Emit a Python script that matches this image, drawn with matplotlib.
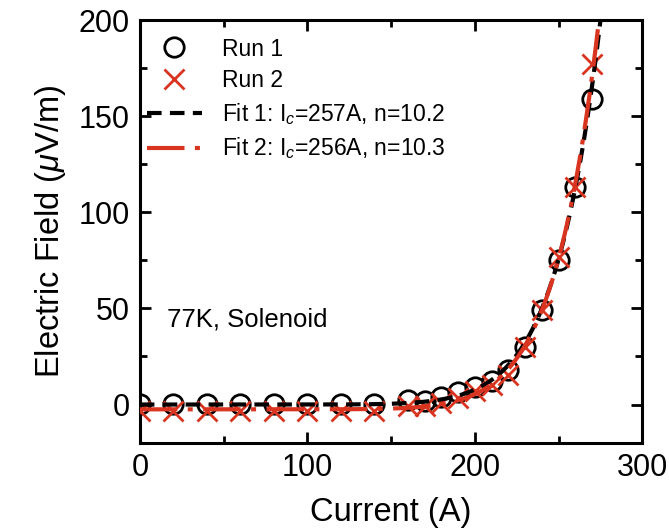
import numpy as np
import matplotlib.pyplot as plt

plt.rcParams['font.family'] = ['Liberation Sans', 'DejaVu Sans']
plt.rcParams['mathtext.fontset'] = 'custom'
plt.rcParams['mathtext.it'] = 'Liberation Sans:italic'
plt.rcParams['mathtext.rm'] = 'Liberation Sans'

red = '#d9341f'

current = [0, 20, 40, 60, 80, 100, 120, 140, 160, 170, 180, 190, 200,
           210, 220, 230, 240, 250, 260, 270]
run1 = [0.5, 0.5, 0.5, 0.5, 0.5, 0.5, 0.5, 0.5, 2.5, 2, 4, 6.5, 9,
        12, 18, 30, 49, 75, 113, 159]
run2 = [-3.5, -3.5, -3.5, -3.5, -3.5, -3.5, -3.5, -3.5, -1, -1, 1, 3.5, 7,
        10, 15.5, 30, 49, 77, 113, 177]

# power-law fits E = Ec*(I/Ic)^n + offset, Ec = 1 uV/cm
Ec = 100.0
fit1 = dict(Ic=257, n=10.2, off=0.0)
fit2 = dict(Ic=256, n=10.3, off=-2.5)

I = np.linspace(0, 285, 600)
E1 = Ec * (I / fit1['Ic']) ** fit1['n'] + fit1['off']
E2 = Ec * (I / fit2['Ic']) ** fit2['n'] + fit2['off']

fig = plt.figure(figsize=(6.69, 5.28), dpi=100)
ax = fig.add_axes([0.209, 0.161, 0.751, 0.801])

ax.plot(current, run1, 'o', ms=14, mfc='none', mec='black', mew=2, label='Run 1', zorder=3)
ax.plot(current, run2, 'x', ms=14, color=red, mew=2, label='Run 2', zorder=4)
ax.plot(I, E1, '--', color='black', lw=3, dashes=(3.5, 2),
        label='Fit 1: I$_{\\it{c}}$=257A, n=10.2', zorder=5)
ax.plot(I, E2, '-.', color=red, lw=3, dashes=(9, 2.5, 1.2, 2.5),
        label='Fit 2: I$_{\\it{c}}$=256A, n=10.3', zorder=6)

ax.set_xlim(0, 300)
ax.set_ylim(-20, 200)
ax.set_xticks([0, 100, 200, 300])
ax.set_xticks([50, 150, 250], minor=True)
ax.set_yticks([0, 50, 100, 150, 200])
ax.set_yticks([25, 75, 125, 175], minor=True)
ax.tick_params(which='both', direction='in', top=True, right=True, width=2, labelsize=22)
ax.tick_params(which='major', length=8, pad=7)
ax.tick_params(which='minor', length=5)
for s in ax.spines.values():
    s.set_linewidth(2.2)

ax.set_xlabel('Current (A)', fontsize=23.5, labelpad=10)
ax.set_ylabel('Electric Field ($\\mu$V/m)', fontsize=23.5, labelpad=8)

ax.text(16, 44, '77K, Solenoid', fontsize=18.5, va='center')

ax.legend(loc='upper left', frameon=False, fontsize=16.5, handlelength=2.4,
          handletextpad=0.9, borderaxespad=0.0, borderpad=0.3,
          labelspacing=0.38, bbox_to_anchor=(0.0, 0.975))

fig.savefig('out.png', dpi=100)
